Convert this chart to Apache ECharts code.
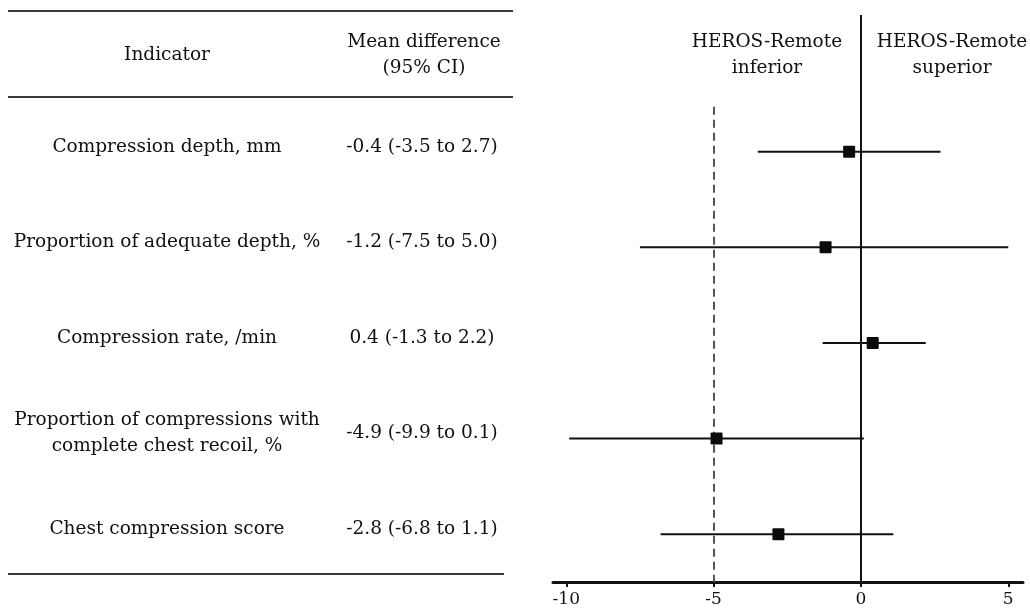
<!DOCTYPE html>
<html>
<head>
<meta charset="utf-8">
<script src="https://cdn.jsdelivr.net/npm/echarts@6/dist/echarts.min.js"></script>
<style>
html,body{margin:0;padding:0;background:#fff;}
#main{width:1030px;height:613px;}
</style>
</head>
<body>
<div id="main"></div>
<script>
const indicators = [
  'Compression depth, mm',
  'Proportion of adequate depth, %',
  'Compression rate, /min',
  'Proportion of compressions with\ncomplete chest recoil, %',
  'Chest compression score'
];
const meanDiff = [-0.4, -1.2, 0.4, -4.9, -2.8];
const ciLow = [-3.5, -7.5, -1.3, -9.9, -6.8];
const ciHigh = [2.7, 5.0, 2.2, 0.1, 1.1];
const xTicks = [-10, -5, 0, 5];
const margin = -5;
const headerLeft = ['Indicator', 'Mean difference\n(95% CI)'];
const headerRight = ['HEROS-Remote\ninferior', 'HEROS-Remote\nsuperior'];

const FONT = '"DejaVu Serif", "Liberation Serif", serif';
const ciText = meanDiff.map((m, i) => `${m.toFixed(1)} (${ciLow[i].toFixed(1)} to ${ciHigh[i].toFixed(1)})`);
const rows = meanDiff.map((m, i) => [i, m, ciLow[i], ciHigh[i]]);

const chart = echarts.init(document.getElementById('main'), null, {renderer: 'canvas'});

const option = {
  animation: false,
  backgroundColor: '#fff',
  grid: {left: 553, right: 7, top: 15, bottom: 31},
  xAxis: {
    type: 'value',
    min: -10.45,
    max: 5.5,
    splitLine: {show: false},
    axisLine: {show: true, onZero: false, lineStyle: {color: '#111', width: 3}},
    axisTick: {show: true, customValues: xTicks, length: 5, lineStyle: {color: '#111', width: 2}},
    axisLabel: {customValues: xTicks, color: '#111', fontFamily: FONT, fontSize: 17, margin: 9,
      formatter: v => String(v)}
  },
  yAxis: {
    type: 'value',
    min: -1.43,
    max: 4.5,
    inverse: true,
    show: false
  },
  series: [
    {
      type: 'custom',
      data: rows,
      encode: {x: [1, 2, 3], y: 0},
      renderItem: function (params, api) {
        const y = api.value(0);
        const p = api.coord([api.value(1), y]);
        const lo = api.coord([api.value(2), y]);
        const hi = api.coord([api.value(3), y]);
        const s = 12;
        return {
          type: 'group',
          children: [
            {type: 'line', shape: {x1: lo[0], y1: lo[1], x2: hi[0], y2: hi[1]},
              style: {stroke: '#111', lineWidth: 2}},
            {type: 'rect', shape: {x: p[0] - s / 2, y: p[1] - s / 2, width: s, height: s, r: 1},
              style: {fill: '#0a0a0a'}}
          ]
        };
      },
      z: 5
    },
    {
      type: 'line',
      data: [],
      markLine: {
        silent: true,
        symbol: 'none',
        label: {show: false},
        data: [
          [{coord: [0, -1.43]}, {coord: [0, 4.5]}],
          [{coord: [margin, -0.47], lineStyle: {type: [8, 5], color: '#555', width: 2}}, {coord: [margin, 4.5]}]
        ],
        lineStyle: {type: 'solid', color: '#111', width: 2}
      }
    }
  ]
};
chart.setOption(option);

function buildGraphics() {
  const g = [];
  const txt = (text, x, y) => ({
    type: 'text', silent: true,
    style: {text, x, y, align: 'center', verticalAlign: 'middle', font: '18.5px ' + FONT,
      fill: '#111', lineHeight: 26}
  });
  const rule = (x1, x2, y) => ({
    type: 'line', silent: true,
    shape: {x1, y1: y, x2, y2: y},
    style: {stroke: '#3a3a3a', lineWidth: 2}
  });
  g.push(rule(8, 513, 11));
  g.push(rule(8, 513, 97));
  g.push(rule(8, 504, 574));
  g.push(txt(headerLeft[0], 167, 55));
  g.push(txt(headerLeft[1], 424, 55));
  g.push(txt(headerRight[0], 767, 55));
  g.push(txt(headerRight[1], 952, 55));
  indicators.forEach((name, i) => {
    const py = chart.convertToPixel({gridIndex: 0}, [0, i])[1] - 5;
    g.push(txt(name, 167, py));
    g.push(txt(ciText[i], 422, py));
  });
  chart.setOption({graphic: g});
}
buildGraphics();
</script>
</body>
</html>
